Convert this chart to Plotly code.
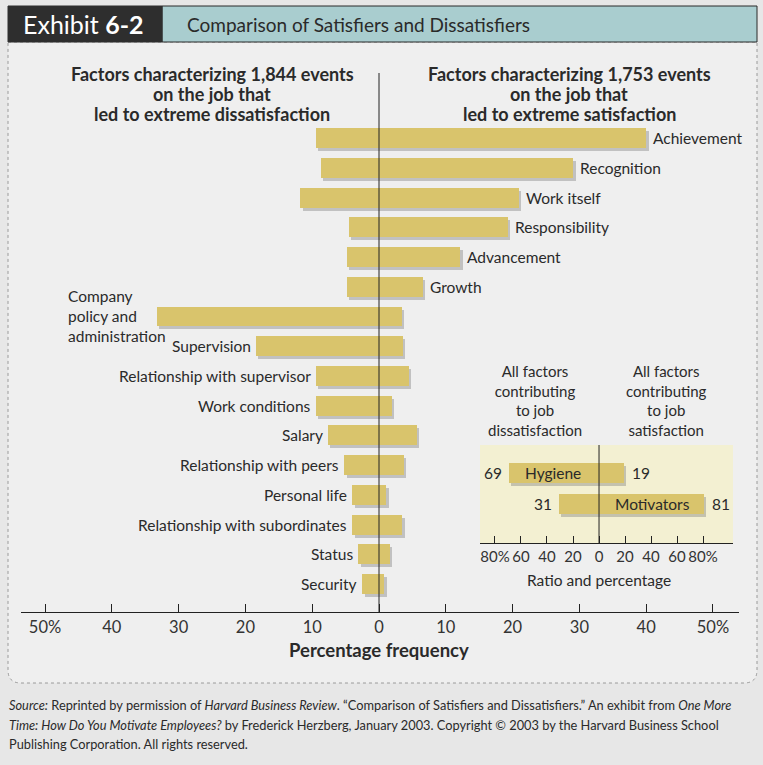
import plotly.graph_objects as go

# ---- data read from the exhibit ----
factors = ['Achievement', 'Recognition', 'Work itself', 'Responsibility', 'Advancement', 'Growth',
           'Company policy and administration', 'Supervision', 'Relationship with supervisor',
           'Work conditions', 'Salary', 'Relationship with peers', 'Personal life',
           'Relationship with subordinates', 'Status', 'Security']
dissatisfaction = [9.5, 8.7, 11.8, 4.5, 4.8, 4.8, 33.3, 18.4, 9.5, 9.5, 7.7, 5.2, 4.0, 4.0, 3.1, 2.5]
satisfaction = [40.0, 29.1, 20.9, 19.3, 12.2, 6.6, 3.4, 3.6, 4.5, 1.9, 5.7, 3.7, 1.1, 3.5, 1.6, 0.8]
n_motivators = 6

groups = ['Hygiene', 'Motivators']
group_dissat = [69, 31]
group_sat = [19, 81]

main_ticks = [-50, -40, -30, -20, -10, 0, 10, 20, 30, 40, 50]
main_ticktext = ['50%', '40', '30', '20', '10', '0', '10', '20', '30', '40', '50%']
inset_ticks = [-80, -60, -40, -20, 0, 20, 40, 60, 80]
inset_ticktext = ['80%', '60', '40', '20', '0', '20', '40', '60', '80%']

left_header = ['Factors characterizing 1,844 events', 'on the job that', 'led to extreme dissatisfaction']
right_header = ['Factors characterizing 1,753 events', 'on the job that', 'led to extreme satisfaction']

W, H = 763, 765
FONT = 'Lato'
BAR = 'rgb(217,196,108)'
SHADOW = 'rgba(110,110,110,0.35)'
INK = '#2a2a2a'


def px(x):
    return x / W


def py(y):
    return 1 - y / H


fig = go.Figure()

idx = list(range(len(factors)))
fig.add_trace(go.Bar(
    y=[i + 0.1 for i in idx], x=[d + s for d, s in zip(dissatisfaction, satisfaction)],
    base=[-d + 0.35 for d in dissatisfaction], orientation='h', width=0.67,
    marker=dict(color=SHADOW, line=dict(width=0)), hoverinfo='skip', showlegend=False))
fig.add_trace(go.Bar(
    y=idx, x=[d + s for d, s in zip(dissatisfaction, satisfaction)],
    base=[-d for d in dissatisfaction], orientation='h', width=0.67,
    marker=dict(color=BAR, line=dict(width=0)), showlegend=False,
    customdata=list(zip(factors, dissatisfaction, satisfaction)),
    hovertemplate='%{customdata[0]}<br>Dissatisfaction: %{customdata[1]}%<br>'
                  'Satisfaction: %{customdata[2]}%<extra></extra>'))

# inset: hygiene vs motivators
gidx = list(range(len(groups)))
fig.add_trace(go.Bar(
    y=[i + 0.1 for i in gidx], x=[d + s for d, s in zip(group_dissat, group_sat)],
    base=[-d + 1.5 for d in group_dissat], orientation='h', width=0.65,
    marker=dict(color=SHADOW, line=dict(width=0)), xaxis='x2', yaxis='y2',
    hoverinfo='skip', showlegend=False))
fig.add_trace(go.Bar(
    y=gidx, x=[d + s for d, s in zip(group_dissat, group_sat)],
    base=[-d for d in group_dissat], orientation='h', width=0.65,
    marker=dict(color=BAR, line=dict(width=0)), xaxis='x2', yaxis='y2', showlegend=False,
    customdata=list(zip(groups, group_dissat, group_sat)),
    hovertemplate='%{customdata[0]}<br>Dissatisfaction: %{customdata[1]}%<br>'
                  'Satisfaction: %{customdata[2]}%<extra></extra>'))

shapes = [
    # outer frame with rounded bottom corners
    dict(type='path', xref='paper', yref='paper',
         path=f'M {px(8)},{py(42)} L {px(757)},{py(42)} L {px(757)},{py(670)} '
              f'Q {px(757)},{py(683)} {px(744)},{py(683)} L {px(21)},{py(683)} '
              f'Q {px(8)},{py(683)} {px(8)},{py(670)} Z',
         fillcolor='#efefef', line=dict(color='#9a9a9a', width=1, dash='dot'), layer='below'),
    # title band
    dict(type='rect', xref='paper', yref='paper', x0=px(162), x1=px(757), y0=py(42), y1=py(6),
         fillcolor='#a9cdcf', line=dict(color='#2a2a2a', width=1), layer='below'),
    dict(type='rect', xref='paper', yref='paper', x0=px(8), x1=px(162), y0=py(42), y1=py(6),
         fillcolor='#2e2e2e', line=dict(color='#2e2e2e', width=1), layer='below'),
    # inset background
    dict(type='rect', xref='x2 domain', yref='y2 domain', x0=0, x1=1, y0=0, y1=1,
         fillcolor='#f3f0d2', line=dict(width=0), layer='below'),
    # zero lines
    dict(type='line', xref='x', yref='y domain', x0=0, x1=0, y0=0, y1=1,
         line=dict(color='#222', width=1), layer='above'),
    dict(type='line', xref='x2', yref='y2 domain', x0=0, x1=0, y0=0, y1=1,
         line=dict(color='#222', width=1), layer='above'),
]

annotations = [
    dict(x=px(21), y=py(24), xref='paper', yref='paper', xanchor='left', yanchor='middle',
         text='Exhibit <b>6-2</b>', showarrow=False, font=dict(family=FONT, size=25, color='white')),
    dict(x=px(185), y=py(24), xref='paper', yref='paper', xanchor='left', yanchor='middle',
         text='Comparison of Satisfiers and Dissatisfiers', showarrow=False,
         font=dict(family=FONT, size=19, color=INK)),
    dict(x=px(379), y=py(650), xref='paper', yref='paper', xanchor='center', yanchor='middle',
         text='<b>Percentage frequency</b>', showarrow=False, font=dict(family=FONT, size=18.5, color=INK)),
    dict(x=px(535), y=py(400), xref='paper', yref='paper', xanchor='center', yanchor='middle',
         text='All factors<br>contributing<br>to job<br>dissatisfaction', showarrow=False,
         font=dict(family=FONT, size=15, color=INK)),
    dict(x=px(666), y=py(400), xref='paper', yref='paper', xanchor='center', yanchor='middle',
         text='All factors<br>contributing<br>to job<br>satisfaction', showarrow=False,
         font=dict(family=FONT, size=15, color=INK)),
    dict(x=px(599), y=py(580), xref='paper', yref='paper', xanchor='center', yanchor='middle',
         text='Ratio and percentage', showarrow=False, font=dict(family=FONT, size=15.5, color=INK)),
]

# column headers, one line each for tighter spacing
for k, (lt, rt) in enumerate(zip(left_header, right_header)):
    annotations.append(dict(x=px(212), y=py(74 + 20 * k), xref='paper', yref='paper',
                            xanchor='center', yanchor='middle', text=f'<b>{lt}</b>', showarrow=False,
                            font=dict(family=FONT, size=18, color=INK)))
    annotations.append(dict(x=px(569), y=py(74 + 20 * k), xref='paper', yref='paper',
                            xanchor='center', yanchor='middle', text=f'<b>{rt}</b>', showarrow=False,
                            font=dict(family=FONT, size=18, color=INK)))

# factor labels
for i, name in enumerate(factors):
    if i < n_motivators:
        annotations.append(dict(x=satisfaction[i], y=i, xref='x', yref='y', xanchor='left',
                                yanchor='middle', xshift=5, text=name, showarrow=False,
                                font=dict(family=FONT, size=15.5, color=INK)))
    elif name.startswith('Company'):
        annotations.append(dict(x=px(66), y=i, xref='paper', yref='y', xanchor='left',
                                yanchor='middle', align='left', text='Company<br>policy and<br>administration',
                                showarrow=False, font=dict(family=FONT, size=15.5, color=INK)))
    else:
        annotations.append(dict(x=-dissatisfaction[i], y=i, xref='x', yref='y', xanchor='right',
                                yanchor='middle', xshift=-3, text=name, showarrow=False,
                                font=dict(family=FONT, size=15.5, color=INK)))

# inset labels
for i, g in enumerate(groups):
    annotations.append(dict(x=-group_dissat[i], y=i, xref='x2', yref='y2', xanchor='right',
                            yanchor='middle', xshift=-5, text=str(group_dissat[i]), showarrow=False,
                            font=dict(family=FONT, size=15.5, color=INK)))
    annotations.append(dict(x=group_sat[i], y=i, xref='x2', yref='y2', xanchor='left',
                            yanchor='middle', xshift=6, text=str(group_sat[i]), showarrow=False,
                            font=dict(family=FONT, size=15.5, color=INK)))
    if g == 'Hygiene':
        annotations.append(dict(x=-group_dissat[i], y=i, xref='x2', yref='y2', xanchor='left',
                                yanchor='middle', xshift=14, text=g, showarrow=False,
                                font=dict(family=FONT, size=15.5, color=INK)))
    else:
        annotations.append(dict(x=group_sat[i], y=i, xref='x2', yref='y2', xanchor='right',
                                yanchor='middle', xshift=-12, text=g, showarrow=False,
                                font=dict(family=FONT, size=15.5, color=INK)))

# source note, one line per annotation
source_lines = [
    '<i>Source:</i> Reprinted by permission of <i>Harvard Business Review</i>. '
    '\u201cComparison of Satisfiers and Dissatisfiers.\u201d An exhibit from <i>One More</i>',
    '<i>Time: How Do You Motivate Employees?</i> by Frederick Herzberg, January 2003. '
    'Copyright \u00a9 2003 by the Harvard Business School',
    'Publishing Corporation. All rights reserved.',
]
for k, line in enumerate(source_lines):
    annotations.append(dict(x=px(7), y=py(705 + 19.5 * k), xref='paper', yref='paper',
                            xanchor='left', yanchor='middle', text=line, showarrow=False,
                            font=dict(family=FONT, size=12.8, color=INK)))

fig.update_layout(
    width=W, height=H,
    margin=dict(l=0, r=0, t=0, b=0),
    paper_bgcolor='#e7e7e7',
    plot_bgcolor='rgba(0,0,0,0)',
    barmode='overlay',
    bargap=0,
    shapes=shapes,
    annotations=annotations,
    showlegend=False,
    font=dict(family=FONT, color=INK),
    xaxis=dict(domain=[px(21), px(739)], range=[-53.6, 53.9], tickvals=main_ticks,
               ticktext=main_ticktext, ticks='inside', ticklen=8, tickcolor='#222',
               showline=True, linecolor='#222', linewidth=1, showgrid=False, zeroline=False,
               tickangle=0, tickfont=dict(family=FONT, size=16.5, color='#333'), fixedrange=True),
    yaxis=dict(domain=[py(612), py(73)], range=[15.94, -2.19], visible=False,
               showgrid=False, zeroline=False, fixedrange=True),
    xaxis2=dict(domain=[px(480), px(733)], range=[-91.5, 103], anchor='y2',
                tickvals=inset_ticks, ticktext=inset_ticktext, ticks='inside', ticklen=7,
                tickcolor='#222', showline=True, linecolor='#222', linewidth=1,
                showgrid=False, zeroline=False, tickangle=0,
                tickfont=dict(family=FONT, size=15, color='#333'), fixedrange=True),
    yaxis2=dict(domain=[py(543), py(445)], range=[2.26, -0.9], anchor='x2', visible=False,
                showgrid=False, zeroline=False, fixedrange=True),
)

# the page body has a default 8px margin; drop it so the figure fills the window
fig.write_html('out.html', config={'displayModeBar': False},
               post_script="document.body.style.margin='0px';")
